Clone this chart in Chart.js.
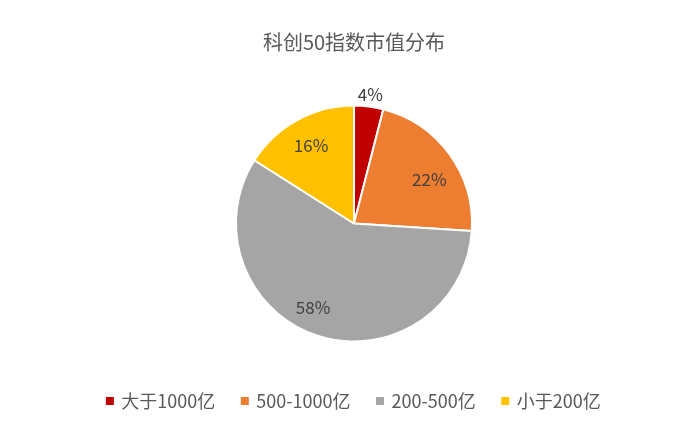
<!DOCTYPE html>
<html>
<head>
<meta charset="utf-8">
<script src="https://cdn.jsdelivr.net/npm/chart.js@4"></script>
<style>
html,body{margin:0;padding:0;background:#fff;}
#wrap{width:700px;height:428px;position:relative;}
</style>
</head>
<body>
<div id="wrap"><canvas id="c" width="700" height="428"></canvas></div>
<script>
const titleText = "科创50指数市值分布";
const categories = ["大于1000亿", "500-1000亿", "200-500亿", "小于200亿"];
const values = [4, 22, 58, 16];
const colors = ["#C00000", "#ED7D31", "#A5A5A5", "#FFC000"];

const FONT = "'Noto Sans CJK SC', 'Microsoft YaHei', sans-serif";

const labelPlugin = {
  id: 'sliceLabels',
  afterDatasetsDraw(chart, args, opts) {
    const ctx = chart.ctx;
    const meta = chart.getDatasetMeta(0);
    const total = values.reduce((a, b) => a + b, 0);
    ctx.save();
    ctx.font = opts.font;
    ctx.fillStyle = opts.color;
    ctx.textAlign = 'center';
    ctx.textBaseline = 'middle';
    meta.data.forEach((arc, i) => {
      const p = arc.getProps(['x', 'y', 'startAngle', 'endAngle', 'outerRadius'], true);
      const mid = (p.startAngle + p.endAngle) / 2 + (opts.angleShift[i] || 0) * Math.PI / 180;
      const d = p.outerRadius * opts.radial[i];
      const x = p.x + Math.cos(mid) * d;
      const y = p.y + Math.sin(mid) * d;
      ctx.fillText(Math.round(values[i] / total * 100) + '%', x, y);
    });
    ctx.restore();
  }
};

new Chart(document.getElementById('c'), {
  type: 'pie',
  data: {
    labels: categories,
    datasets: [{
      data: values,
      backgroundColor: colors,
      borderColor: '#FFFFFF',
      borderWidth: 2,
      radius: 118
    }]
  },
  options: {
    responsive: false,
    animation: false,
    events: [],
    layout: { padding: { left: 8, right: 0, top: 0, bottom: 8 } },
    plugins: {
      title: {
        display: true,
        text: titleText,
        color: '#595959',
        font: { family: FONT, size: 20, weight: 'normal', lineHeight: 1.2 },
        padding: { top: 30, bottom: 28 }
      },
      legend: {
        display: true,
        position: 'bottom',
        labels: {
          color: '#595959',
          font: { family: FONT, size: 18 },
          usePointStyle: true,
          pointStyle: 'rect',
          boxWidth: 5,
          boxHeight: 8,
          padding: 27,
          generateLabels(chart) {
            const items = Chart.controllers.pie.overrides.plugins.legend.labels.generateLabels(chart);
            items.forEach(it => { it.lineWidth = 0; it.strokeStyle = it.fillStyle; });
            return items;
          }
        }
      },
      tooltip: { enabled: false },
      sliceLabels: {
        font: "17px 'Noto Sans CJK SC', 'Microsoft YaHei', sans-serif",
        color: '#404040',
        radial: [1.1, 0.74, 0.79, 0.755],
        angleShift: [0, 5.6, 8, 0]
      }
    }
  },
  plugins: [labelPlugin]
});
</script>
</body>
</html>
